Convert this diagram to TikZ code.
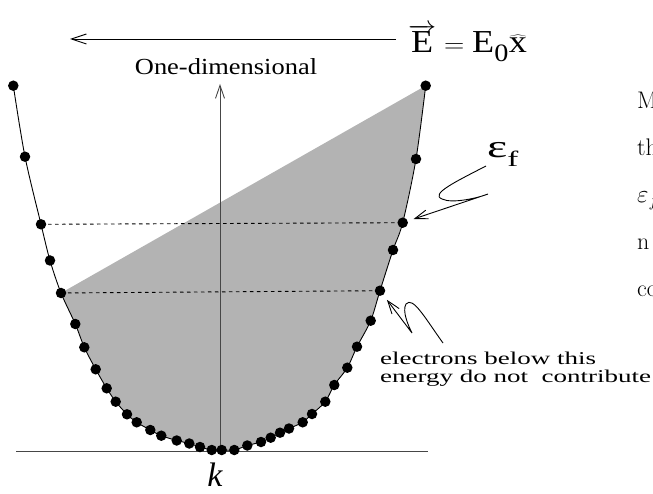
\documentclass[tikz,border=0pt]{standalone}
\usepackage{fontspec}
\newfontfamily\tnr{Liberation Serif}
\usetikzlibrary{arrows.meta}
\definecolor{fillgray}{RGB}{179,179,179}
\definecolor{axisgray}{RGB}{70,70,70}
\newcommand\myfs[1]{\fontsize{#1}{#1}\selectfont}
\begin{document}
\begin{tikzpicture}[x=1pt,y=-1pt,
  dot/.style={circle,fill=black,inner sep=0pt,minimum size=10.5pt},
  thinline/.style={line width=0.9pt,black},
  axisline/.style={line width=1pt,axisgray},
  dashline/.style={line width=0.9pt,dash pattern=on 3.5pt off 3.5pt},
  barb/.style={-{Straight Barb[length=15pt,width=10pt,line width=0.9pt]}},
  smallbarb/.style={-{Straight Barb[length=13pt,width=9pt,line width=0.9pt]}},
  serif/.style={inner sep=0pt,font=\tnr},
  cmtext/.style={inner sep=0pt,anchor=base west,font=\myfs{24}}
]
\useasboundingbox (0,0) rectangle (653,494);

% dots
\foreach \n/\x/\y in {
  1/13.3/85.7, 2/25/156.7, 3/41/224.3, 4/50/260.5, 5/61/293,
  6/75.3/324, 7/84.3/347.3, 8/95.7/369.3, 9/106.7/388.3, 10/115.7/401.7,
  11/127/414.3, 12/136.7/422.3, 13/150.3/430, 14/161.3/435.7, 15/176.7/440.5,
  16/189.3/443.5, 17/200/447, 18/211.7/450, 19/221.7/450,
  20/234.3/450, 21/247.3/445.5, 22/261/442, 23/270.7/437.7, 24/280/432.7,
  25/289/428.5, 26/302.7/422.3, 27/312/414, 28/325.3/401.7, 29/334.3/385,
  30/347.3/367.7, 31/357/346.7, 32/370.7/320.7, 33/380/290.7, 34/393/250,
  35/402.7/222.7, 36/416/159, 37/425.7/85.7}
  {\coordinate (c\n) at (\x,\y);}

% shaded region
\fill[fillgray] plot coordinates {(c5) (c6) (c7) (c8) (c9) (c10) (c11) (c12)
  (c13) (c14) (c15) (c16) (c17) (c18) (c19) (c20) (c21) (c22) (c23) (c24)
  (c25) (c26) (c27) (c28) (c29) (c30) (c31) (c32) (c33) (c34) (c35) (c36) (c37)} -- cycle;

% dashed levels
\draw[dashline] (c3) -- (c35);
\draw[dashline] (c5) -- (c33);

% axes
\coordinate (bl) at (16,451);
\coordinate (br) at (428,451);
\coordinate (vb) at (220,451);
\coordinate (vt) at (220,84);
\draw[axisline] (bl) -- (br);
\draw[axisline,smallbarb] (vb) -- (vt);

% dispersion curve
\draw[thinline] plot[smooth,tension=0.5] coordinates {(c1) (c2) (c3) (c4) (c5) (c6) (c7) (c8) (c9) (c10) (c11) (c12)
  (c13) (c14) (c15) (c16) (c17) (c18) (c19) (c20) (c21) (c22) (c23) (c24)
  (c25) (c26) (c27) (c28) (c29) (c30) (c31) (c32) (c33) (c34) (c35) (c36) (c37)};

\foreach \n in {1,...,37} {\node[dot] (d\n) at (c\n) {};}

% field arrow
\coordinate (fa) at (396,39);
\coordinate (fb) at (70,39);
\draw[thinline,barb] (fa) -- (fb);

% texts
\node[serif,anchor=base] (onedim) at (226,75) {\myfs{23}\scalebox{1.15}[1]{One-dimensional}};
\node[serif,anchor=base west] (efield) at (408,53)
  {\myfs{32}\scalebox{1.13}[1]{$\overrightarrow{\hbox{E}} = \hbox{E}_{\hbox{\myfs{25}0}}\widehat{\hbox{x}}$}};
\node[serif,anchor=base west] (epsf) at (487,158)
  {\scalebox{1.5}[1]{\myfs{32}ε\raisebox{-9pt}{\myfs{22}f}}};
\node[serif,anchor=base] (klab) at (215,486) {\myfs{34}\itshape k};
\node[serif,anchor=base west] (note1) at (380,364) {\myfs{18}\scalebox{1.5}[1]{electrons below this}};
\node[serif,anchor=base west] (note2) at (380,382) {\myfs{18}\scalebox{1.5}[1]{energy do not\ \ contribute}};

% clipped text at the right edge
\node[cmtext] (r1) at (637,109) {M};
\node[cmtext] (r2) at (637,156) {th};
\node[cmtext] (r3) at (637,203) {$\varepsilon_f$};
\node[cmtext] (r4) at (637,250) {n};
\node[cmtext] (r5) at (637,297) {co};

% pointer squiggles
\coordinate (s1) at (486,166);
\coordinate (s2) at (488,194);
\draw[thinline,smallbarb,shorten >=6pt] (s1) .. controls (455,182) and (430,194) .. (442,199)
  .. controls (452,204) and (478,198) .. (s2) -- (d35);
\coordinate (t1) at (443,343);
\coordinate (t2) at (412,333);
\draw[thinline,smallbarb,shorten >=6pt] (t1) .. controls (425,318) and (413,296) .. (406,304)
  .. controls (402,311) and (408,325) .. (t2) -- (d33);
\end{tikzpicture}
\end{document}
